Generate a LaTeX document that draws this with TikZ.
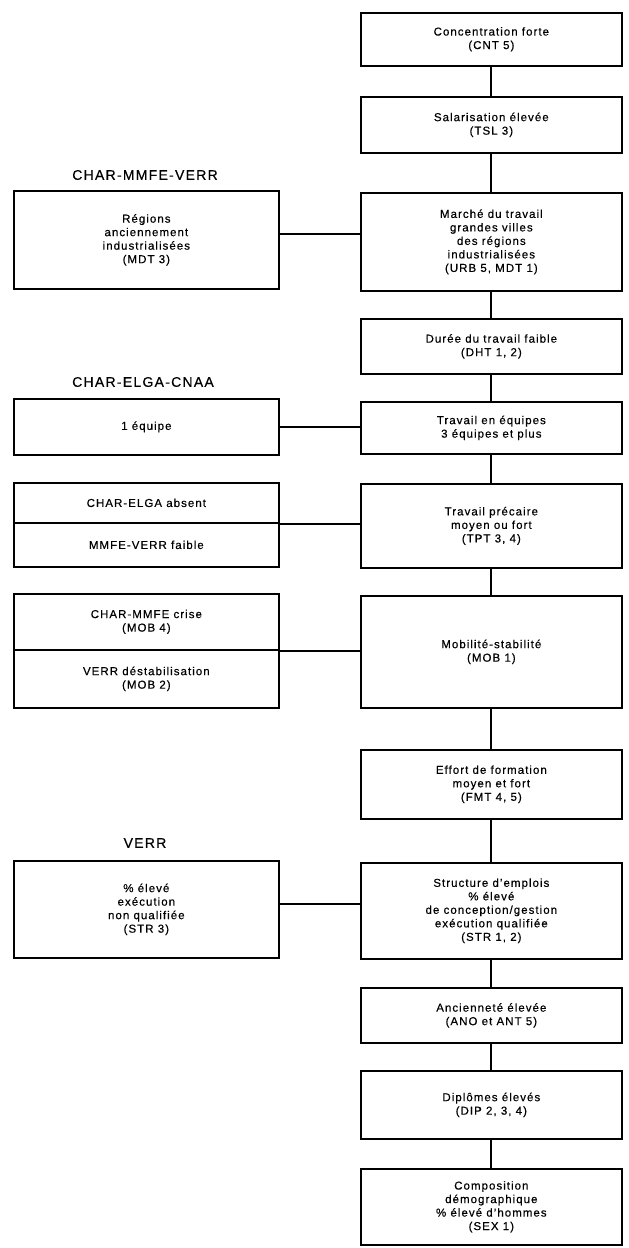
\documentclass[tikz,border=0pt]{standalone}
\usepackage{fontspec}
\setmainfont{Liberation Sans}[LetterSpace=9,FakeBold=0.4]
\begin{document}
\begin{tikzpicture}[x=1pt,y=-1pt,
  box/.style={draw, line width=1.7pt, align=center, inner sep=0pt, anchor=north west,
    font=\fontsize{11.5}{13.5}\selectfont},
  rbox/.style={box, minimum width=261pt},
  lbox/.style={box, minimum width=265pt},
  lab/.style={font=\fontsize{14}{16}\selectfont},
  conn/.style={line width=1.9pt}]
\useasboundingbox (0,0) rectangle (629,1248);
% right column
\node[rbox, minimum height=53pt] (r1) at (360,12) {Concentration forte\\(CNT 5)};
\node[rbox, minimum height=56pt] (r2) at (360,96) {Salarisation élevée\\(TSL 3)};
\node[rbox, minimum height=98pt] (r3) at (360,192) {Marché du travail\\grandes villes\\des régions\\industrialisées\\(URB 5, MDT 1)};
\node[rbox, minimum height=55pt] (r4) at (360,318) {Durée du travail faible\\(DHT 1, 2)};
\node[rbox, minimum height=52pt] (r5) at (360,401) {Travail en équipes\\3 équipes et plus};
\node[rbox, minimum height=84pt] (r6) at (360,483) {Travail précaire\\moyen ou fort\\(TPT 3, 4)};
\node[rbox, minimum height=112pt] (r7) at (360,595) {Mobilité-stabilité\\(MOB 1)};
\node[rbox, minimum height=69pt] (r8) at (360,749) {Effort de formation\\moyen et fort\\(FMT 4, 5)};
\node[rbox, minimum height=96pt] (r9) at (360,862) {Structure d'emplois\\\% élevé\\de conception/gestion\\exécution qualifiée\\(STR 1, 2)};
\node[rbox, minimum height=55pt] (r10) at (360,987) {Ancienneté élevée\\(ANO et ANT 5)};
\node[rbox, minimum height=68pt] (r11) at (360,1070) {Diplômes élevés\\(DIP 2, 3, 4)};
\node[rbox, minimum height=76pt] (r12) at (360,1168) {Composition\\démographique\\\% élevé d'hommes\\(SEX 1)};
% spine connectors
\coordinate (sp) at (491,0);
\foreach \a/\b in {r1/r2,r2/r3,r3/r4,r4/r5,r5/r6,r6/r7,r7/r8,r8/r9,r9/r10,r10/r11,r11/r12}
  \draw[conn] (\a.south -| sp) -- (\b.north -| sp);
% left column
\node[lab] (t1) at (145,175) {CHAR-MMFE-VERR};
\node[lbox, minimum height=98pt] (l1) at (13,190) {Régions\\anciennement\\industrialisées\\(MDT 3)};
\node[lab] (t2) at (143,382) {CHAR-ELGA-CNAA};
\node[lbox, minimum height=56pt] (l2) at (13,398) {1 équipe};
\node[lbox, minimum height=40pt] (l3a) at (13,482) {CHAR-ELGA absent};
\node[lbox, minimum height=44pt] (l3b) at (13,522) {MMFE-VERR faible};
\node[lbox, minimum height=56pt] (l4a) at (13,593) {CHAR-MMFE crise\\(MOB 4)};
\node[lbox, minimum height=58pt] (l4b) at (13,649) {VERR déstabilisation\\(MOB 2)};
\node[lab] (t5) at (145,843) {VERR};
\node[lbox, minimum height=97pt] (l5) at (13,860) {\% élevé\\exécution\\non qualifiée\\(STR 3)};
% horizontal connectors
\draw[conn] ([yshift=6pt]l1.east) -- ([yshift=6pt]l1.east -| r3.west);
\draw[conn] (l2.east) -- (l2.east -| r5.west);
\draw[conn] (l3a.south east) -- (l3a.south east -| r6.west);
\draw[conn] (l4a.south east) -- (l4a.south east -| r7.west);
\draw[conn] ([yshift=5.5pt]l5.east) -- ([yshift=5.5pt]l5.east -| r9.west);
\end{tikzpicture}
\end{document}
